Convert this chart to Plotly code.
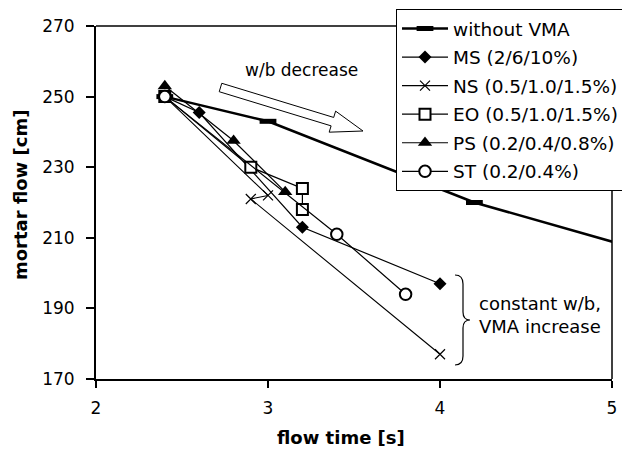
import math
import plotly.graph_objects as go

# Flow time [s] and mortar flow [cm] for each mix series
ref_time = [2.4, 3.0, 4.2, 5.5]
ref_flow = [250, 243, 220, 202]

ms_time = [2.4, 2.6, 3.2, 4.0]
ms_flow = [250, 245.5, 213, 197]

ns_time = [2.4, 3.0, 2.9, 4.0]
ns_flow = [250, 222, 221, 177]

eo_time = [2.4, 2.9, 3.2, 3.2]
eo_flow = [250, 230, 224, 218]

ps_time = [2.4, 2.8, 3.1]
ps_flow = [253, 237.5, 223]

st_time = [2.4, 3.4, 3.8]
st_flow = [250, 211, 194]

series_names = [
    "without VMA",
    "MS (2/6/10%)",
    "NS (0.5/1.0/1.5%)",
    "EO (0.5/1.0/1.5%)",
    "PS (0.2/0.4/0.8%)",
    "ST (0.2/0.4%)",
]

x_ticks = [2, 3, 4, 5]
y_ticks = [170, 190, 210, 230, 250, 270]

# Page and plotting-area geometry (pixels)
W, H = 622, 450
ML, MR, MT, MB = 96, 10, 26, 71
X0, X1 = 2, 5
Y0, Y1 = 170, 270
PW = W - ML - MR
PH = H - MT - MB

FONT = "DejaVu Sans"


def dx(px):
    return X0 + (px - ML) / PW * (X1 - X0)


def dy(py):
    return Y1 - (py - MT) / PH * (Y1 - Y0)


def paper_x(px):
    return (px - ML) / PW


def paper_y(py):
    return 1 - (py - MT) / PH


fig = go.Figure()

fig.add_trace(go.Scatter(
    x=ref_time, y=ref_flow, name=series_names[0], mode="lines+markers",
    legendgroup="g0",
    line=dict(color="black", width=2.5),
    marker=dict(symbol="line-ew", size=12, line=dict(color="black", width=5)),
))
fig.add_trace(go.Scatter(
    x=ms_time, y=ms_flow, name=series_names[1], mode="lines+markers",
    legendgroup="g1",
    line=dict(color="black", width=1.2),
    marker=dict(symbol="diamond", size=10, color="black"),
))
fig.add_trace(go.Scatter(
    x=ns_time, y=ns_flow, name=series_names[2], mode="lines+markers",
    legendgroup="g2",
    line=dict(color="black", width=1.1),
    marker=dict(symbol="x-thin-open", size=10, line=dict(color="black", width=1.2)),
))
fig.add_trace(go.Scatter(
    x=eo_time, y=eo_flow, name=series_names[3], mode="lines+markers",
    legendgroup="g3",
    line=dict(color="black", width=1.2),
    marker=dict(symbol="square", size=11, color="white",
                line=dict(color="black", width=2)),
))
fig.add_trace(go.Scatter(
    x=ps_time, y=ps_flow, name=series_names[4], mode="lines+markers",
    legendgroup="g4",
    line=dict(color="black", width=1.2),
    marker=dict(symbol="triangle-up", size=12.5, color="black"),
))
fig.add_trace(go.Scatter(
    x=st_time, y=st_flow, name=series_names[5], mode="lines+markers",
    legendgroup="g5",
    line=dict(color="black", width=1.2),
    marker=dict(symbol="circle", size=11.5, color="white",
                line=dict(color="black", width=2)),
))

# Hollow block arrow for the w/b trend
tail = (220.5, 87.5)
tip = (363.0, 131.0)
ux, uy = tip[0] - tail[0], tip[1] - tail[1]
ln = math.hypot(ux, uy)
ux, uy = ux / ln, uy / ln
nx, ny = -uy, ux
shaft_hw, head_hw, head_len = 4.4, 11.0, 32.0
bx, by = tip[0] - ux * head_len, tip[1] - uy * head_len
pts = [
    (tail[0] + nx * shaft_hw, tail[1] + ny * shaft_hw),
    (bx + nx * shaft_hw, by + ny * shaft_hw),
    (bx + nx * head_hw, by + ny * head_hw),
    tip,
    (bx - nx * head_hw, by - ny * head_hw),
    (bx - nx * shaft_hw, by - ny * shaft_hw),
    (tail[0] - nx * shaft_hw, tail[1] - ny * shaft_hw),
]
arrow_path = "M " + " L ".join(f"{dx(p[0]):.4f},{dy(p[1]):.3f}" for p in pts) + " Z"

# Curly brace grouping the constant-w/b ends
bxl, bxm, bxt = 455, 463, 470
b_top, b_mid, b_bot = 275, 320, 365
brace_path = (
    f"M {dx(bxl):.4f},{dy(b_top):.3f} "
    f"Q {dx(bxm):.4f},{dy(b_top):.3f} {dx(bxm):.4f},{dy(b_top + 9):.3f} "
    f"L {dx(bxm):.4f},{dy(b_mid - 8):.3f} "
    f"Q {dx(bxm):.4f},{dy(b_mid):.3f} {dx(bxt):.4f},{dy(b_mid):.3f} "
    f"Q {dx(bxm):.4f},{dy(b_mid):.3f} {dx(bxm):.4f},{dy(b_mid + 8):.3f} "
    f"L {dx(bxm):.4f},{dy(b_bot - 9):.3f} "
    f"Q {dx(bxm):.4f},{dy(b_bot):.3f} {dx(bxl):.4f},{dy(b_bot):.3f}"
)

shapes = [
    dict(type="path", path=arrow_path, xref="x", yref="y",
         fillcolor="white", line=dict(color="black", width=1)),
    dict(type="path", path=brace_path, xref="x", yref="y",
         line=dict(color="black", width=1.2)),
    # top and right frame of the plotting area
    dict(type="line", xref="paper", yref="paper", x0=0, x1=1, y0=1, y1=1,
         line=dict(color="black", width=1.5)),
    dict(type="line", xref="paper", yref="paper", x0=1, x1=1, y0=0, y1=1,
         line=dict(color="black", width=1.5)),
]

annotations = [
    dict(text="w/b decrease", x=paper_x(301), y=paper_y(70), xref="paper", yref="paper",
         showarrow=False, xanchor="center", yanchor="middle",
         font=dict(family=FONT, size=17, color="black")),
    dict(text="constant w/b,", x=paper_x(477), y=paper_y(303), xref="paper", yref="paper",
         showarrow=False, xanchor="left", yanchor="middle",
         font=dict(family=FONT, size=18, color="black")),
    dict(text="VMA increase", x=paper_x(477), y=paper_y(326), xref="paper", yref="paper",
         showarrow=False, xanchor="left", yanchor="middle",
         font=dict(family=FONT, size=18, color="black")),
    dict(text="<b>flow time [s]</b>", x=paper_x(341), y=paper_y(437), xref="paper", yref="paper",
         showarrow=False, xanchor="center", yanchor="middle",
         font=dict(family=FONT, size=18, color="black")),
    dict(text="<b>mortar flow [cm]</b>", x=paper_x(20), y=paper_y(195), xref="paper", yref="paper",
         showarrow=False, xanchor="center", yanchor="middle", textangle=-90,
         font=dict(family=FONT, size=18, color="black")),
]

fig.update_layout(
    width=W, height=H,
    margin=dict(l=ML, r=MR, t=MT, b=MB, autoexpand=False),
    paper_bgcolor="white", plot_bgcolor="white",
    font=dict(family=FONT, size=17, color="black"),
    shapes=shapes,
    annotations=annotations,
    legend=dict(
        x=paper_x(396), y=paper_y(9), xanchor="left", yanchor="top",
        bgcolor="white", bordercolor="black", borderwidth=1,
        font=dict(family=FONT, size=18.5, color="black"),
        itemwidth=46, tracegroupgap=1.5,
    ),
    xaxis=dict(
        range=[X0, X1], tickvals=x_ticks, ticktext=[str(v) for v in x_ticks],
        showline=True, linecolor="black", linewidth=2,
        ticks="outside", ticklen=7, tickwidth=1.5, tickcolor="black",
        showgrid=False, zeroline=False, ticklabelstandoff=6,
        tickfont=dict(family=FONT, size=17, color="black"),
    ),
    yaxis=dict(
        range=[Y0, Y1], tickvals=y_ticks, ticktext=[str(v) for v in y_ticks],
        showline=True, linecolor="black", linewidth=2,
        ticks="outside", ticklen=8, tickwidth=1.5, tickcolor="black",
        showgrid=False, zeroline=False, ticklabelstandoff=8,
        tickfont=dict(family=FONT, size=17, color="black"),
    ),
)

fig.write_html("out.html")
